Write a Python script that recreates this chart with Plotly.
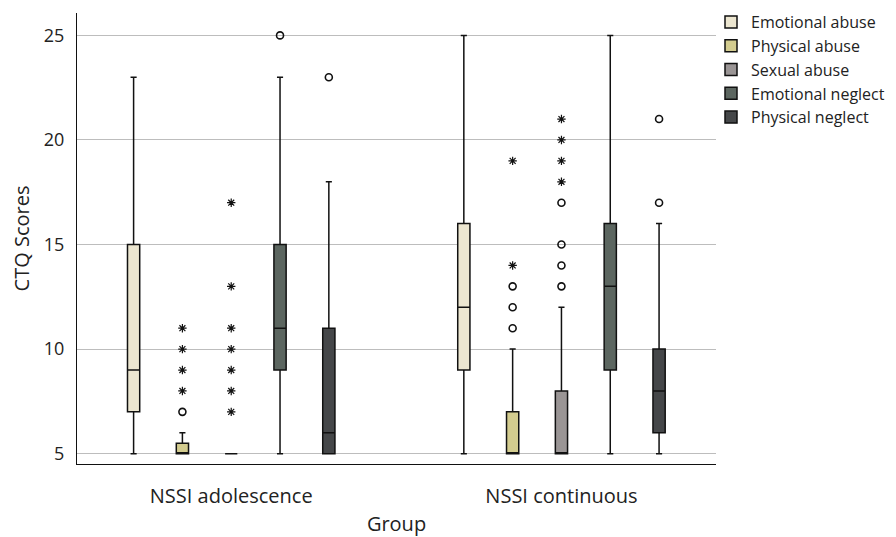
import plotly.graph_objects as go

groups = ["NSSI adolescence", "NSSI continuous"]
categories = ["Emotional abuse", "Physical abuse", "Sexual abuse",
              "Emotional neglect", "Physical neglect"]
colors = ["#ECE6D0", "#D3CC8F", "#9A9595", "#5C6660", "#454749"]

# per category: [adolescence, continuous]
q1 = [[7, 9], [5, 5], [5, 5], [9, 9], [5, 6]]
median = [[9, 12], [5, 5], [5, 5], [11, 13], [6, 8]]
q3 = [[15, 16], [5.5, 7], [5, 8], [15, 16], [11, 10]]
lowerfence = [[5, 5], [5, 5], [5, 5], [5, 5], [5, 5]]
upperfence = [[23, 25], [6, 10], [5, 12], [23, 25], [18, 16]]

# outliers (circles) and extreme values (asterisks)
circles = [
    [[], []],
    [[7], [11, 12, 13]],
    [[], [13, 14, 15, 17]],
    [[25], []],
    [[23], [17, 21]],
]
asterisks = [
    [[], []],
    [[8, 9, 10, 11], [14, 19]],
    [[7, 8, 9, 10, 11, 13, 17], [18, 19, 20, 21]],
    [[], []],
    [[], []],
]

yticks = [5, 10, 15, 20, 25]

spacing = 0.1478
box_w = 0.037
font_family = "Open Sans, sans-serif"
txt = "#222222"

fig = go.Figure()
group_pos = list(range(len(groups)))
for i, cat in enumerate(categories):
    off = (i - (len(categories) - 1) / 2) * spacing
    xs = [g + off for g in group_pos]
    fig.add_trace(go.Box(
        name=cat, x=xs,
        q1=q1[i], median=median[i], q3=q3[i],
        lowerfence=lowerfence[i], upperfence=upperfence[i],
        width=box_w, whiskerwidth=0.5,
        fillcolor=colors[i],
        line=dict(color="#111111", width=1.5),
        boxpoints=False, hoverinfo="skip",
    ))
for i, cat in enumerate(categories):
    off = (i - (len(categories) - 1) / 2) * spacing
    for g in group_pos:
        if circles[i][g]:
            fig.add_trace(go.Scatter(
                x=[g + off] * len(circles[i][g]), y=circles[i][g],
                mode="markers", showlegend=False, hoverinfo="skip",
                marker=dict(symbol="circle-open", size=7, color="#111111",
                            line=dict(width=1.6, color="#111111")),
            ))
        if asterisks[i][g]:
            fig.add_trace(go.Scatter(
                x=[g + off] * len(asterisks[i][g]), y=asterisks[i][g],
                mode="markers", showlegend=False, hoverinfo="skip",
                marker=dict(symbol="asterisk-open", size=7, color="#111111",
                            line=dict(width=1.2, color="#111111")),
            ))

fig.update_layout(
    width=896, height=537,
    margin=dict(l=77, r=180, t=13, b=73, autoexpand=False),
    paper_bgcolor="white", plot_bgcolor="white",
    font=dict(family=font_family, color=txt),
    legend=dict(xref="container", yref="container",
                x=711 / 896, y=1 - 5 / 537, xanchor="left", yanchor="top",
                font=dict(size=16, color=txt), bgcolor="rgba(0,0,0,0)",
                tracegroupgap=0, itemclick=False),
    xaxis=dict(range=[-0.467, 1.468], tickvals=group_pos, ticktext=groups,
               showgrid=False, zeroline=False, showline=True,
               linecolor="#111111", linewidth=1.2, ticks="",
               automargin=False,
               tickfont=dict(size=20, color=txt), ticklabelstandoff=14,
               title=dict(text="Group", font=dict(size=20, color=txt), standoff=15)),
    yaxis=dict(range=[4.507, 26.07], tickvals=yticks,
               showgrid=True, gridcolor="#BDBDBD", gridwidth=1.2,
               zeroline=False, showline=True, linecolor="#111111",
               linewidth=1.2, ticks="", ticklabelstandoff=8,
               automargin=False,
               tickfont=dict(size=18, color=txt),
               title=dict(text="CTQ Scores", font=dict(size=20, color=txt), standoff=8)),
    showlegend=True,
)

fig.write_html("out.html", post_script="document.body.style.margin='0';",
               config={"displayModeBar": False})
